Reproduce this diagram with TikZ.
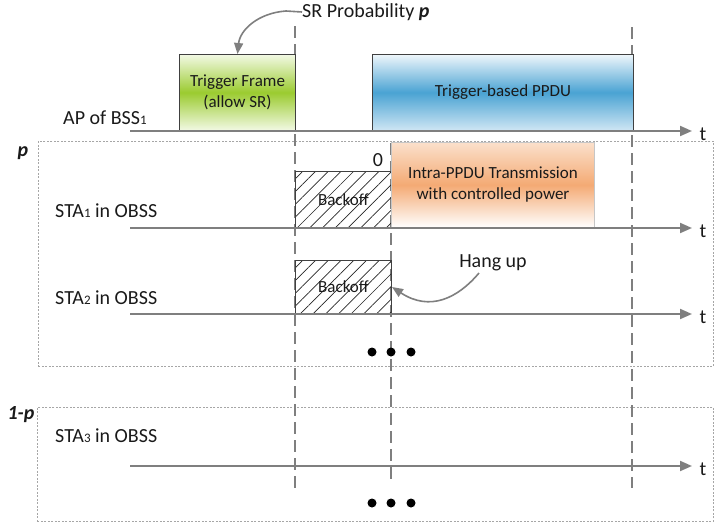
\documentclass[tikz,border=0pt]{standalone}
\usepackage{fontspec}
\setmainfont{Carlito}
\usetikzlibrary{arrows.meta,patterns.meta}
\definecolor{axisgray}{HTML}{7F7F7F}
\definecolor{txt}{HTML}{1A1A1A}
\definecolor{greenmid}{HTML}{9BCB30}
\definecolor{greenlight}{HTML}{F2F9E4}
\definecolor{bluemid}{HTML}{4AA3D3}
\definecolor{bluelight}{HTML}{EEF6FB}
\definecolor{bluebot}{HTML}{CFE6F4}
\definecolor{orangemid}{HTML}{F4AA74}
\definecolor{orangelight}{HTML}{FBE0CB}
\newcommand{\mysub}[1]{{\fontsize{13}{13}\selectfont #1}}
\newcommand{\bigfont}{\fontsize{20}{24}\selectfont}
\newcommand{\boxfont}{\fontsize{17}{21}\selectfont}
\tikzset{
  lbl/.style={text=txt, font=\bigfont, inner sep=0pt, anchor=west},
  tlbl/.style={text=txt, font=\bigfont, inner sep=0pt},
  axisline/.style={draw=axisgray, line width=2pt, -{Triangle[length=12pt,width=10pt]}},
  vdash/.style={draw=axisgray, line width=1.5pt, dash pattern=on 12pt off 6pt},
  regionbox/.style={draw=gray!70, line width=0.8pt, dash pattern=on 2pt off 1.5pt},
  curvarrow/.style={draw=axisgray, line width=1.6pt, -{Triangle[length=11pt,width=9pt]}},
  framebox/.style={draw=black!75, line width=1pt, text=txt, font=\boxfont, align=center, inner sep=0pt, anchor=south west},
  backoffbox/.style={draw=black!75, line width=1pt, text=txt, font=\boxfont, inner sep=0pt, anchor=south west,
    pattern={Lines[angle=45,distance=9pt,line width=0.7pt]}, pattern color=black!85},
  dot/.style={circle, fill=black, inner sep=0pt, minimum size=9pt},
}
\begin{document}
\begin{tikzpicture}[x=1pt,y=-1pt]
\useasboundingbox (0,0) rectangle (716,525);

% region boxes
\node[regionbox, minimum width=675pt, minimum height=225pt, anchor=north west, inner sep=0pt] (pbox) at (38,141) {};
\node[regionbox, minimum width=676pt, minimum height=114pt, anchor=north west, inner sep=0pt] (qbox) at (37,407) {};
\node[tlbl] (plbl) at (23,153) {\textbf{\textit{p}}};
\node[tlbl] (qlbl) at (21,415) {\textbf{\textit{1-p}}};

% vertical dashed lines
\coordinate (v1t) at (295,26); \coordinate (v1b) at (295,488);
\coordinate (v2t) at (391,143); \coordinate (v2b) at (391,484);
\coordinate (v3t) at (632,27); \coordinate (v3b) at (632,488);
\draw[vdash] (v1t) -- (v1b);
\draw[vdash] (v2t) -- (v2b);
\draw[vdash] (v3t) -- (v3b);

% AP row
\node[framebox, minimum width=116pt, minimum height=76pt,
  top color=greenlight, bottom color=greenlight, middle color=greenmid] (tf) at (179,131) {Trigger Frame\\(allow SR)};
\node[framebox, minimum width=261pt, minimum height=76pt,
  top color=bluelight, bottom color=bluebot, middle color=bluemid] (tb) at (372,131) {Trigger-based PPDU};
\coordinate (a0s) at (130,131); \coordinate (a0e) at (692,131);
\draw[axisline] (a0s) -- (a0e);
\node[tlbl] (t0) at (703,134) {t};
\node[lbl] (ap) at (63,118) {AP of BSS\mysub{1}};

% SR probability
\node[lbl] (sr) at (302,12) {SR Probability \textbf{\textit{p}}};
\draw[curvarrow] (sr.west) -- (286,11) .. controls (258,13) and (240,30) .. (tf.north);

% STA1
\node[backoffbox, minimum width=96pt, minimum height=56pt] (bo1) at (295,228) {Backoff};
\node[framebox, draw=gray!45, minimum width=203pt, minimum height=85pt,
  top color=orangelight, bottom color=white, middle color=orangemid] (intra) at (391,228) {Intra-PPDU Transmission\\with controlled power};
\node[tlbl] (zero) at (378,160) {0};
\coordinate (a1s) at (130,228); \coordinate (a1e) at (692,228);
\draw[axisline] (a1s) -- (a1e);
\node[tlbl] (t1) at (703,231) {t};
\node[lbl] (sta1) at (55,211) {STA\mysub{1} in OBSS};

% STA2
\node[backoffbox, minimum width=96pt, minimum height=53pt] (bo2) at (295,314) {Backoff};
\coordinate (a2s) at (130,314); \coordinate (a2e) at (692,314);
\draw[axisline] (a2s) -- (a2e);
\node[tlbl] (t2) at (703,317) {t};
\node[lbl] (sta2) at (55,298) {STA\mysub{2} in OBSS};
\node[tlbl] (hang) at (493,263) {Hang up};
\coordinate (hs) at (479,273);
\draw[curvarrow] (hs) .. controls (458,298) and (430,312) .. (bo2.east);

% dots in p box
\node[dot] (d1) at (372,352) {};
\node[dot] (d2) at (391,352) {};
\node[dot] (d3) at (411,352) {};

% STA3
\coordinate (a3s) at (130,466); \coordinate (a3e) at (692,466);
\draw[axisline] (a3s) -- (a3e);
\node[tlbl] (t3) at (703,469) {t};
\node[lbl] (sta3) at (55,436) {STA\mysub{3} in OBSS};

\node[dot] (e1) at (372,503) {};
\node[dot] (e2) at (391,503) {};
\node[dot] (e3) at (411,503) {};
\end{tikzpicture}
\end{document}
